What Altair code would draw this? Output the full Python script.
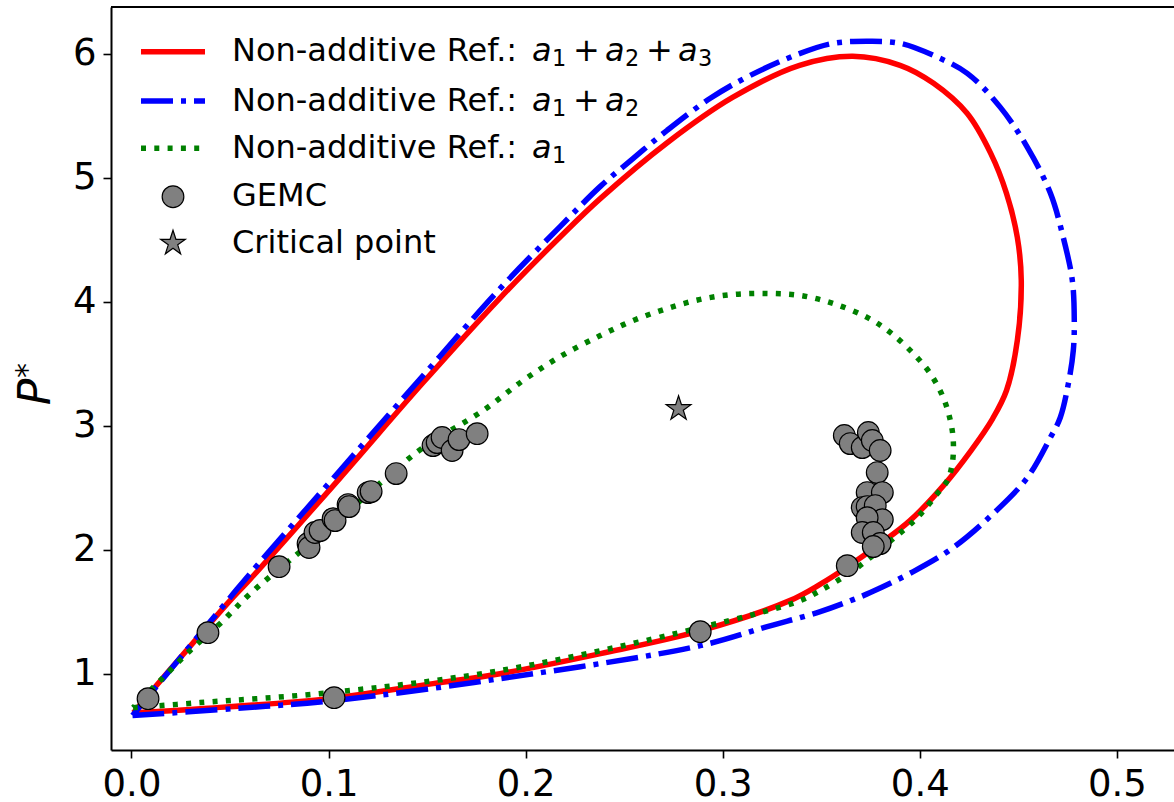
import altair as alt
import pandas as pd

# Coexistence envelopes, traced in (x, P*) order around each loop
red_x = [0.001, 0.035, 0.100, 0.153, 0.187, 0.238, 0.289, 0.334, 0.350, 0.363, 0.380, 0.395, 0.412,
         0.426, 0.437, 0.444, 0.4495, 0.4515, 0.4495, 0.444, 0.436, 0.424, 0.407, 0.390, 0.366,
         0.339, 0.305, 0.272, 0.238, 0.218, 0.187, 0.148, 0.106, 0.060, 0.050, 0.020, 0.001]
red_y = [0.688, 0.720, 0.801, 0.922, 1.002, 1.164, 1.349, 1.591, 1.728, 1.860, 2.051, 2.236, 2.518,
         2.801, 3.059, 3.285, 3.688, 4.172, 4.519, 4.874, 5.196, 5.519, 5.761, 5.906, 5.979,
         5.906, 5.647, 5.284, 4.833, 4.530, 4.030, 3.349, 2.583, 1.760, 1.591, 1.043, 0.688]

blue_x = [0.0005, 0.0515, 0.1023, 0.1871, 0.2886, 0.3226, 0.3495, 0.3662, 0.3749, 0.3967, 0.4170,
          0.4373, 0.4546, 0.4663, 0.4713, 0.4754, 0.4779, 0.4784, 0.4774, 0.4728, 0.4663, 0.4546,
          0.4409, 0.4241, 0.4069, 0.3901, 0.3733, 0.3561, 0.3393, 0.3140, 0.2937, 0.2718, 0.2546,
          0.2379, 0.2176, 0.1871, 0.1480, 0.1058, 0.0602, 0.0500, 0.0005]
blue_y = [0.665, 0.720, 0.785, 0.962, 1.228, 1.382, 1.502, 1.599, 1.656, 1.825, 2.019,
          2.293, 2.583, 2.906, 3.067, 3.341, 3.607, 3.849, 4.172, 4.519, 4.874, 5.245,
          5.567, 5.841, 5.986, 6.083, 6.099, 6.083, 6.002, 5.825, 5.640, 5.382, 5.156,
          4.930, 4.608, 4.108, 3.406, 2.640, 1.809, 1.615, 0.665]

green_x = [0.0008, 0.0348, 0.1003, 0.1871, 0.2886, 0.3393, 0.3495, 0.3662, 0.3835, 0.3987, 0.4089,
           0.4140, 0.4165, 0.4170, 0.4155, 0.4119, 0.4053, 0.3967, 0.3850, 0.3733, 0.3561, 0.3393,
           0.3226, 0.3053, 0.2886, 0.2718, 0.2546, 0.2379, 0.2176, 0.1987, 0.1784, 0.1480, 0.1277,
           0.1058, 0.0820, 0.0602, 0.0449, 0.0297, 0.0145, 0.0008]
green_y = [0.728, 0.769, 0.849, 1.027, 1.373, 1.591, 1.672, 1.833, 2.051, 2.260, 2.454,
           2.559, 2.696, 2.881, 3.043, 3.228, 3.422, 3.583, 3.753, 3.874, 3.986, 4.051,
           4.067, 4.059, 4.019, 3.946, 3.849, 3.728, 3.559, 3.365, 3.123, 2.825, 2.559,
           2.252, 1.938, 1.647, 1.405, 1.188, 0.946, 0.728]

# Gibbs-ensemble Monte Carlo coexistence points
gemc_x = [0.0084, 0.0388, 0.1028, 0.2886, 0.0749, 0.0896, 0.0901, 0.0931, 0.0957, 0.1023, 0.1033,
          0.1099, 0.1104, 0.1201, 0.1216, 0.1343, 0.1530, 0.1551, 0.1576, 0.1627, 0.1662, 0.1754,
          0.3617, 0.3647, 0.3708, 0.3739, 0.3759, 0.3799, 0.3784, 0.3733, 0.3810, 0.3708, 0.3733,
          0.3774, 0.3810, 0.3733, 0.3708, 0.3764, 0.3799, 0.3764, 0.3632]
gemc_y = [0.801, 1.333, 0.809, 1.341, 1.865, 2.051, 2.019, 2.140, 2.156, 2.252, 2.236,
          2.365, 2.349, 2.462, 2.470, 2.615, 2.841, 2.865, 2.906, 2.801, 2.889, 2.937,
          2.922, 2.857, 2.825, 2.946, 2.882, 2.801, 2.623, 2.462, 2.462, 2.341, 2.349,
          2.357, 2.244, 2.260, 2.140, 2.140, 2.051, 2.027, 1.873]

crit_x = [0.2776]
crit_y = [3.138]

y_ticks = [1, 2, 3, 4, 5, 6]
x_ticks = [0.0, 0.1, 0.2, 0.3, 0.4, 0.5]

legend_labels = ["Non-additive Ref.:", "Non-additive Ref.:", "Non-additive Ref.:", "GEMC", "Critical point"]
legend_terms = [3, 2, 1]  # a_1 + ... + a_n in each line label

FONT = "DejaVu Sans"
W, H = 1063, 743
PAD_L, PAD_T = 111, 7
XMIN, XMAX = -0.0104, 0.529
YMIN, YMAX = 0.387, 6.376
LW = 5.5
DASHDOT = [32, 8, 5, 8]
DOTTED = [5, 8.3]
GREY = "#808080"
# five-pointed star in the unit box used by Vega symbol paths
STAR = ("M0,-1L0.2245,-0.309L0.9511,-0.309L0.3633,0.118L0.5878,0.809L0,0.382"
        "L-0.5878,0.809L-0.3633,0.118L-0.9511,-0.309L-0.2245,-0.309Z")

x_scale = alt.Scale(domain=[XMIN, XMAX], nice=False, zero=False)
y_scale = alt.Scale(domain=[YMIN, YMAX], nice=False, zero=False)

x_axis = alt.Axis(values=x_ticks, format=".1f", title=None, grid=False, tickSize=8, tickWidth=1.6,
                  tickColor="black", domainColor="black", domainWidth=2, labelFont=FONT,
                  labelFontSize=37, labelColor="black", labelPadding=8, orient="bottom")
y_axis = alt.Axis(values=y_ticks, format="d", title=None, grid=False, tickSize=8, tickWidth=1.6,
                  tickColor="black", domainColor="black", domainWidth=2, labelFont=FONT,
                  labelFontSize=37, labelColor="black", labelPadding=7, orient="left")


def enc_xy():
    return dict(x=alt.X("x:Q", scale=x_scale, axis=x_axis), y=alt.Y("y:Q", scale=y_scale, axis=y_axis))


def curve(xs, ys, color, dash=None):
    kw = dict(color=color, strokeWidth=LW, interpolate="catmull-rom", strokeCap="butt")
    if dash is not None:
        kw["strokeDash"] = dash
    df = pd.DataFrame({"i": list(range(len(xs))), "x": xs, "y": ys})
    return alt.Chart(df).mark_line(**kw).encode(order="i:Q", **enc_xy())


def symbols(xs, ys, shape, size):
    return alt.Chart(pd.DataFrame({"x": xs, "y": ys})).mark_point(
        shape=shape, filled=True, fill=GREY, stroke="black", strokeWidth=1.2, size=size, opacity=1
    ).encode(**enc_xy())


red = curve(red_x, red_y, "#ff0000")
blue = curve(blue_x, blue_y, "#0000ff", DASHDOT)
green = curve(green_x, green_y, "#008000", DOTTED)
gemc = symbols(gemc_x, gemc_y, "circle", 470)
crit = symbols(crit_x, crit_y, STAR, 676)


# ---- frame, legend and y title, laid out in page pixels and mapped onto the axes ----
def fx(p):
    return XMIN + (p - PAD_L) / W * (XMAX - XMIN)


def fy(p):
    return YMAX - (p - PAD_T) / H * (YMAX - YMIN)


def seg(x0, x1, y0, color, width, dash=None):
    kw = dict(color=color, strokeWidth=width, strokeCap="butt")
    if dash is not None:
        kw["strokeDash"] = dash
    df = pd.DataFrame({"x": [fx(x0)], "x2": [fx(x1)], "y": [fy(y0)]})
    return alt.Chart(df).mark_rule(**kw).encode(x2="x2:Q", **enc_xy())


def words(items, size, style="normal", angle=0, align="left"):
    df = pd.DataFrame({
        "t": [s for s, _, _ in items],
        "x": [fx(x) for _, x, _ in items],
        "y": [fy(y) for _, _, y in items],
    })
    return alt.Chart(df).mark_text(
        font=FONT, fontSize=size, fontStyle=style, angle=angle, align=align,
        baseline="alphabetic", color="black"
    ).encode(text="t:N", **enc_xy())


top_spine = seg(PAD_L, PAD_L + W, PAD_T, "black", 2)

# y title: italic P with a raised star
ytitle_p = words([("P", 50, 392)], 44, style="italic", angle=270, align="center")
ytitle_star = words([("*", 37, 378)], 30, angle=270)

rows = [51.7, 101.0, 148.3, 196.7, 243.3]
LX0, LX1, TX, MX = 141, 205, 232, 173
LFS, SFS = 32, 22.4
A_POS = [532, 605, 678]
PLUS_POS = [573, 646]

leg = [
    seg(LX0, LX1, rows[0], "#ff0000", LW),
    seg(LX0, LX1, rows[1], "#0000ff", LW, DASHDOT),
    seg(LX0, LX1, rows[2], "#008000", LW, DOTTED),
    symbols([fx(MX)], [fy(rows[3])], "circle", 470),
    symbols([fx(MX)], [fy(rows[4])], STAR, 676),
]

plain, italic, subs = [], [], []
for r, lab in zip(rows, legend_labels):
    plain.append((lab, TX, r + 9.7))
for r, n in zip(rows, legend_terms):
    base = r + 9.7
    for k in range(n):
        italic.append(("a", A_POS[k], base))
        subs.append((str(k + 1), A_POS[k] + 20, base + 5))
        if k < n - 1:
            plain.append(("+", PLUS_POS[k], base))

leg += [words(plain, LFS), words(italic, LFS, style="italic"), words(subs, SFS)]

chart = alt.layer(
    red, blue, green, gemc, crit, top_spine, ytitle_p, ytitle_star, *leg
).properties(
    width=W, height=H, autosize="none",
    padding={"left": PAD_L, "top": PAD_T, "right": 0, "bottom": 52},
).configure_view(strokeOpacity=0)

chart.save("out.html", embed_options={"renderer": "svg", "actions": False})
